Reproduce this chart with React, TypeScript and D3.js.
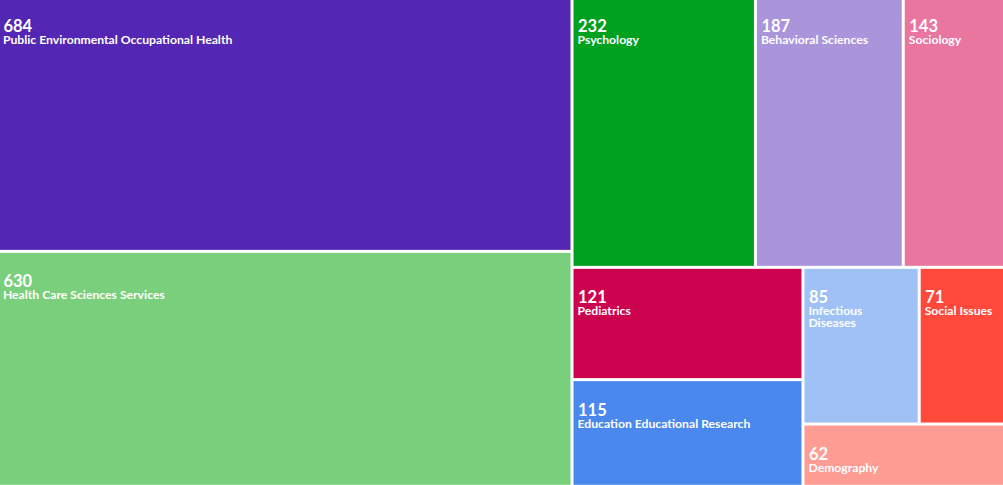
import React, { useMemo } from "react";
import * as d3 from "d3";

const categories = [
  "Public Environmental Occupational Health",
  "Health Care Sciences Services",
  "Psychology",
  "Behavioral Sciences",
  "Sociology",
  "Pediatrics",
  "Education Educational Research",
  "Infectious Diseases",
  "Social Issues",
  "Demography",
];
const values = [684, 630, 232, 187, 143, 121, 115, 85, 71, 62];
const colors = [
  "#5327b3",
  "#7acf7c",
  "#00a020",
  "#aa94dc",
  "#e8769f",
  "#cc034f",
  "#4a88ee",
  "#9fc1f6",
  "#ff493b",
  "#ff9c94",
];

const WIDTH = 1003;
const HEIGHT = 485;
const LAYOUT_X = -2.6;
const LAYOUT_Y = -3.7;
const LAYOUT_W = 1018.9;
const LAYOUT_H = 490;
const GAP = 3;
const FONT = "Lato, 'Open Sans', sans-serif";
const LABEL_SIZE = 12.2;
const NUM_SIZE = 16.5;

let ctx: CanvasRenderingContext2D | null = null;
function measure(text: string, size: number) {
  if (!ctx) ctx = document.createElement("canvas").getContext("2d");
  if (!ctx) return text.length * size * 0.5;
  ctx.font = `bold ${size}px Lato`;
  return ctx.measureText(text).width;
}

function wrap(text: string, maxW: number): string[] {
  const words = text.split(" ");
  const lines: string[] = [];
  let cur = "";
  for (const w of words) {
    const test = cur ? cur + " " + w : w;
    if (cur && measure(test, LABEL_SIZE) > maxW) {
      lines.push(cur);
      cur = w;
    } else cur = test;
  }
  if (cur) lines.push(cur);
  return lines;
}

type Datum = { name: string; value: number; color: string };

export default function App() {
  const leaves = useMemo(() => {
    const data: Datum[] = categories.map((c, i) => ({
      name: c,
      value: values[i],
      color: colors[i],
    }));
    const root = d3
      .hierarchy<any>({ children: data })
      .sum((d: any) => d.value || 0)
      .sort((a, b) => (b.value || 0) - (a.value || 0));
    d3.treemap<any>().tile(d3.treemapSquarify).size([LAYOUT_W, LAYOUT_H])(root);
    return root.leaves() as d3.HierarchyRectangularNode<any>[];
  }, []);

  return (
    <div style={{ position: "absolute", left: 0, top: 0 }}>
      <svg width={WIDTH} height={HEIGHT} style={{ display: "block", background: "#fff" }}>
        <g transform={`translate(${LAYOUT_X},${LAYOUT_Y})`}>
          {leaves.map((l, i) => {
            const x = l.x0 + GAP / 2;
            const y = l.y0 + GAP / 2;
            const w = l.x1 - l.x0 - GAP;
            const h = l.y1 - l.y0 - GAP;
            const lines = wrap(l.data.name, w - 10);
            return (
              <g key={i}>
                <rect x={x} y={y} width={w} height={h} fill={l.data.color} />
                <text
                  x={x + 4.5}
                  y={y + 34.5}
                  fill="#fff"
                  fontFamily={FONT}
                  fontWeight="bold"
                  fontSize={NUM_SIZE}
                >
                  {l.data.value}
                </text>
                <text
                  x={x + 4}
                  y={y + 46.5}
                  fill="#fff"
                  fontFamily={FONT}
                  fontWeight="bold"
                  fontSize={LABEL_SIZE}
                >
                  {lines.map((ln, j) => (
                    <tspan key={j} x={x + 4} dy={j === 0 ? 0 : 12}>
                      {ln}
                    </tspan>
                  ))}
                </text>
              </g>
            );
          })}
        </g>
      </svg>
    </div>
  );
}
